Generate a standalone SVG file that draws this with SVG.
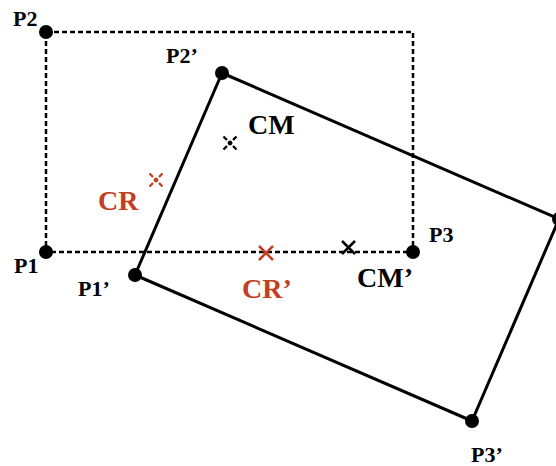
<svg xmlns="http://www.w3.org/2000/svg" width="556" height="466" viewBox="0 0 556 466">
<defs>
<g id="dx">
<circle cx="0" cy="0" r="2"/>
<path d="M-6.5,-6.5 L-3,-3 M6.5,-6.5 L3,-3 M-6.5,6.5 L-3,3 M6.5,6.5 L3,3" stroke-width="2.3" fill="none"/>
</g>
</defs>
<style>
.lbl{font-family:"Liberation Serif","Times New Roman",serif;font-weight:bold;fill:#000}
.p{font-size:22px}
.big{font-size:28px}
.red{fill:#c1401f}
.dash{fill:none;stroke:#000;stroke-width:2.5;stroke-dasharray:5 3}
.solid{fill:none;stroke:#000;stroke-width:3;stroke-linejoin:round}
.dot{fill:#000}
.x{stroke-width:2.5;fill:none}
</style>
<rect width="556" height="466" fill="#fff"/>
<g id="connectors">
<polygon class="dash" points="46,32 413,32 413,252 46,252"/>
<polygon class="solid" points="222,73 559,219 472,421 135,275"/>
</g>
<g id="P1"><circle class="dot" cx="46" cy="252" r="7"/><text class="lbl p" x="14" y="273">P1</text></g>
<g id="P2"><circle class="dot" cx="46" cy="32" r="7"/><text class="lbl p" x="13" y="26">P2</text></g>
<g id="P3"><circle class="dot" cx="413" cy="252" r="7"/><text class="lbl p" x="429" y="242">P3</text></g>
<g id="P1p"><circle class="dot" cx="135" cy="275" r="7"/><text class="lbl p" x="78" y="296">P1’</text></g>
<g id="P2p"><circle class="dot" cx="222" cy="73" r="7"/><text class="lbl p" x="166" y="63">P2’</text></g>
<g id="P3p"><circle class="dot" cx="472" cy="421" r="7"/><text class="lbl p" x="471" y="462">P3’</text></g>
<g id="P4p"><circle class="dot" cx="559" cy="219" r="7"/></g>
<g id="CM"><use href="#dx" x="230" y="143" fill="#000" stroke="#000"/><text class="lbl big" x="248" y="134">CM</text></g>
<g id="CR"><use href="#dx" x="156" y="180" fill="#c1401f" stroke="#c1401f"/><text class="lbl big red" x="98" y="210">CR</text></g>
<g id="CRp"><path class="x" stroke="#c1401f" d="M259,246 L273,260 M273,246 L259,260"/><text class="lbl big red" x="242" y="298">CR’</text></g>
<g id="CMp"><path class="x" stroke="#000" d="M342,241 L355,254 M355,241 L342,254"/><text class="lbl big" x="357" y="287">CM’</text></g>
</svg>
